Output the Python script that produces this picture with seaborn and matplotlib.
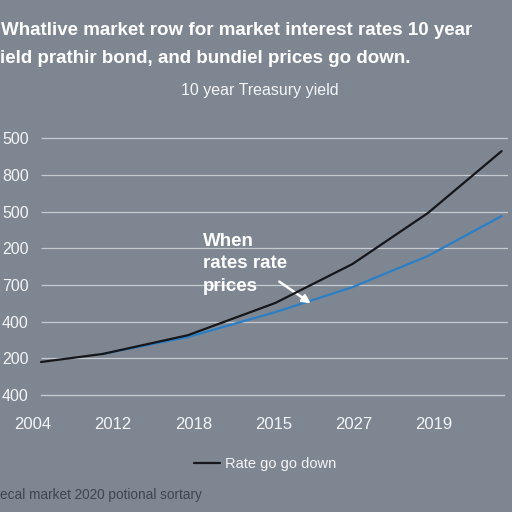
import matplotlib
matplotlib.use("Agg")
import matplotlib.pyplot as plt
import seaborn as sns
import pandas as pd
import numpy as np

# ---- data ----
x_tick_labels = ["2004", "2012", "2018", "2015", "2027", "2019"]
y_tick_labels = ["400", "200", "400", "700", "200", "500", "800", "500"]

black_x = [0.10, 0.87, 1.93, 3.02, 3.98, 4.92, 5.84]
black_y = [0.90, 1.12, 1.63, 2.51, 3.57, 4.96, 6.65]
blue_x = [0.87, 1.93, 3.02, 3.98, 4.92, 5.84]
blue_y = [1.12, 1.58, 2.26, 2.94, 3.79, 4.88]

legend_label = "Rate go go down"
title_line1 = "Whatlive market row for market interest rates 10 year"
title_line2 = "ield prathir bond, and bundiel prices go down."
subtitle = "10 year Treasury yield"
annotation = "When\nrates rate\nprices"
footer = "ecal market 2020 potional sortary"

BG = "#7e8692"
GRID = "#c5cad1"
TXT = "#f4f5f7"

sns.set_theme(style="white")
plt.rcParams["font.family"] = ["Liberation Sans", "DejaVu Sans"]

XMIN, XMAX, XEND = 0.10, 5.92, 5.87
fig = plt.figure(figsize=(5.12, 5.12), dpi=100, facecolor=BG)
ax = fig.add_axes([33/512, 1-395/512, (508-33)/512, (395-131)/512])
ax.set_facecolor(BG)

df_black = pd.DataFrame({"x": black_x, "y": black_y})
df_blue = pd.DataFrame({"x": blue_x, "y": blue_y})
sns.lineplot(data=df_black, x="x", y="y", ax=ax, color="#15171a", lw=1.6,
             label=legend_label, zorder=4)
sns.lineplot(data=df_blue, x="x", y="y", ax=ax, color="#2a7fc6", lw=1.6,
             zorder=3)

ax.set_xlim(0, XMAX)
ax.set_ylim(0, 7.2)
ax.set_xlabel("")
ax.set_ylabel("")

ax.set_yticks(range(len(y_tick_labels)))
ax.set_yticklabels(y_tick_labels)
ax.set_xticks(range(len(x_tick_labels)))
ax.set_xticklabels(x_tick_labels)
minor = list(np.linspace(XMIN, 1, 6)[:-1]) + list(np.arange(1, 5.0, 0.2)) + \
    list(np.linspace(5, XEND, 6))
ax.set_xticks(minor, minor=True)
ax.xaxis.get_major_ticks()[0].tick1line.set_visible(False)

ax.hlines(range(1, len(y_tick_labels)), XMIN, XMAX, color=GRID, lw=0.9,
          zorder=1)

for s in ["top", "right", "left"]:
    ax.spines[s].set_visible(False)
ax.spines["bottom"].set_color(GRID)
ax.spines["bottom"].set_linewidth(1.0)
ax.spines["bottom"].set_bounds(XMIN, XEND)

ax.tick_params(axis="y", length=0, pad=0, labelsize=11.5, labelcolor=TXT)
ax.tick_params(axis="x", which="major", direction="out", length=6, width=1.0,
               color=GRID, pad=10, labelsize=12, labelcolor=TXT)
ax.tick_params(axis="x", which="minor", direction="out", length=3, width=0.8,
               color=GRID)
for lab in ax.get_yticklabels():
    lab.set_horizontalalignment("left")
    lab.set_transform(ax.get_yaxis_transform())
    lab.set_x(-31/475)

# annotation
fig.text(203/512, 1-233/512, annotation, fontsize=13.5, fontweight="bold",
         color="white", va="top", ha="left", linespacing=1.42)
ax.annotate("", xy=(313/512, 1-305/512), xytext=(277/512, 1-280/512),
            xycoords="figure fraction", textcoords="figure fraction",
            arrowprops=dict(arrowstyle="-|>", color="white", lw=1.8,
                            mutation_scale=12))

# titles
fig.text(1/512, 1-35/512, title_line1, fontsize=13.5, fontweight="bold",
         color="white", ha="left", va="baseline")
fig.text(0/512, 1-63/512, title_line2, fontsize=13.5, fontweight="bold",
         color="white", ha="left", va="baseline")
fig.text(260/512, 1-90/512, subtitle, fontsize=11.5, color=TXT,
         ha="center", va="center")

# legend
leg = ax.legend(loc="center", bbox_to_anchor=(265/512, 1-464/512),
                bbox_transform=fig.transFigure, frameon=False, fontsize=10.5,
                handlelength=1.8, handletextpad=0.35)
for t in leg.get_texts():
    t.set_color(TXT)

fig.text(0/512, 1-495/512, footer, fontsize=9.8, color="#3e4550",
         ha="left", va="center")

fig.savefig("out.png", dpi=100, facecolor=BG)
